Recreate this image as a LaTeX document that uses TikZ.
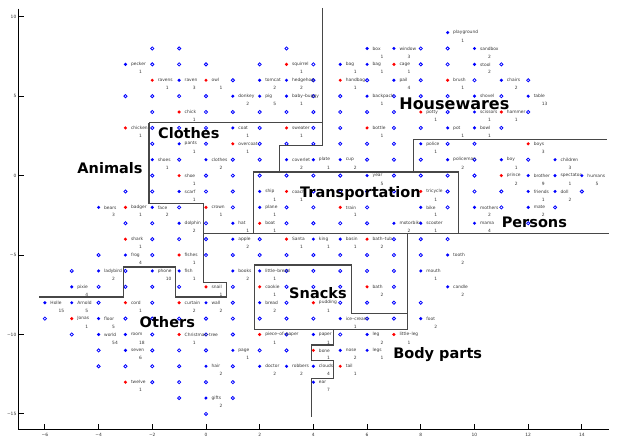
\documentclass[tikz,border=0pt]{standalone}
\usepackage{fontspec}
\setmainfont{DejaVu Sans}
\definecolor{pb}{RGB}{0,0,255}
\definecolor{pr}{RGB}{255,0,0}
\begin{document}
\begin{tikzpicture}[x=26.85pt, y=15.89pt]
\tikzset{
 dot/.style={circle, inner sep=0pt, minimum size=3.4pt},
 ring/.style={circle, draw=pb, line width=0.8pt, inner sep=0pt, minimum size=3.2pt},
 wlab/.style={anchor=west, inner sep=0pt, text=black!78, font=\fontsize{4.4}{5}\selectfont},
 cnt/.style={wlab},
 cat/.style={anchor=base, inner sep=0pt, font=\bfseries\fontsize{14.5}{17}\selectfont},
 region/.style={draw=black!72, line width=1.2pt},
 axisline/.style={draw=black, line width=0.9pt},
 ticklab/.style={inner sep=0pt, text=black!80, font=\fontsize{4.4}{5}\selectfont},
}
\useasboundingbox (-7.672,-16.576) rectangle (15.494,11.051);

% empty grid cells
\foreach \y/\xs in {8/{-2,-1,3,8,9}, 7/{-2,-1,0,2,4,8,9,11}, 6/{1,4,6,8,10,12},
  5/{-3,-2,-1,0,4,5,7,8,9,11}, 4/{-2,0,1,2,3,4,5,6,7,9,12}, 3/{-2,-1,0,2,4,5,7,8,11},
  2/{-2,0,2,3,4,5,6,7,9,10}, 1/{-1,1,2,6,7,8,10,12}, 0/{-2,0,1,2,3,4,5,7,8,9,10},
  -1/{-3,-2,0,1,4,5,6,7,9,10,11,14}, -2/{-1,1,3,4,6,9,11,13}, -3/{-3,-2,0,3,4,5,6,12},
  -4/{-2,-1,0,2,7,8,9}, -5/{-4,-2,0,1,2,3,4,5,6,7,8}, -6/{-5,-3,3,4,5,6,7},
  -7/{-4,-3,-2,-1,1,3,4,5,7}, -8/{-4,-2,1,3,5,6,7,8}, -9/{-6,-3,-2,-1,0,1,2,3,4,6,7},
  -10/{-5,-2,0,1,3,5}, -11/{-4,-2,-1,0,2,3}, -12/{-4,-3,-2,-1,1}, -13/{-2,-1,0,1},
  -14/{-1,1}, -15/{0}}{
  \foreach \x in \xs {\node[ring] (e\x y\y) at (\x,\y) {};}
}

% labelled words
\foreach \x/\y/\t/\l/\c [count=\i] in {
 9/9/pb/playground/1, 6/8/pb/box/1, 7/8/pb/window/3, 10/8/pb/sandbox/2,
 -3/7/pb/pecker/1, 3/7/pr/squirrel/1, 5/7/pb/bag/1, 6/7/pb/bag/1, 7/7/pr/cage/1, 10/7/pb/stool/2,
 -2/6/pr/ravens/1, -1/6/pb/raven/3, 0/6/pr/owl/1, 2/6/pb/tomcat/2, 3/6/pb/hedgehog/2,
 5/6/pr/handbag/1, 7/6/pb/pail/4, 9/6/pr/brush/1, 11/6/pb/chairs/2,
 1/5/pb/donkey/2, 2/5/pb/pig/5, 3/5/pb/baby–buggy/1, 6/5/pb/backpack/1, 12/5/pb/table/13,
 -1/4/pr/chick/1, 8/4/pr/potty/1, 10/4/pb/scissors/1, 11/4/pr/hammer/1,
 -3/3/pr/chicken/1, 1/3/pb/coat/1, 3/3/pr/sweater/1, 6/3/pr/bottle/1, 9/3/pb/pot/1, 10/3/pb/bowl/1,
 -1/2/pb/pants/1, 1/2/pr/overcoat/1, 8/2/pb/police/1, 12/2/pr/boys/3,
 -2/1/pb/shoes/1, 0/1/pb/clothes/2, 3/1/pb/coverlet/2, 4/1/pb/plate/1, 5/1/pb/cup/2,
 9/1/pb/policeman/2, 11/1/pb/boy/1, 13/1/pb/children/3,
 -1/0/pr/shoe/1, 6/0/pb/year/5, 11/0/pr/prince/2, 12/0/pb/brother/9, 13/0/pb/spectator/1, 14/0/pb/humans/5,
 -1/-1/pb/scarf/1, 2/-1/pb/ship/1, 3/-1/pr/coach/1, 8/-1/pr/tricycle/1, 12/-1/pb/friends/1, 13/-1/pb/doll/2,
 -4/-2/pb/bears/3, -3/-2/pr/badger/1, -2/-2/pb/face/2, 0/-2/pr/crown/1, 2/-2/pb/plane/1,
 5/-2/pr/train/1, 8/-2/pb/bike/1, 10/-2/pb/mothers/2, 12/-2/pb/mate/2,
 -1/-3/pb/dolphin/2, 1/-3/pb/hat/1, 2/-3/pr/boat/1, 7/-3/pb/motorbike/2, 8/-3/pb/scooter/1, 10/-3/pb/mama/4,
 -3/-4/pr/shark/1, 1/-4/pb/apple/2, 3/-4/pr/Santa/1, 4/-4/pb/king/1, 5/-4/pb/basin/1, 6/-4/pr/bath–tub/2,
 -3/-5/pb/frog/4, -1/-5/pr/fishes/1, 9/-5/pb/tooth/2,
 -4/-6/pb/ladybird/2, -2/-6/pb/phone/10, -1/-6/pb/fish/1, 1/-6/pb/books/2, 2/-6/pb/little–bread/1, 8/-6/pb/mouth/1,
 -5/-7/pb/pixie/4, 0/-7/pr/snail/1, 2/-7/pr/cookie/1, 6/-7/pr/bath/2, 9/-7/pb/candle/2,
 -6/-8/pb/Holle/15, -5/-8/pb/Arnold/5, -3/-8/pr/cord/1, -1/-8/pr/curtain/2, 0/-8/pb/wall/2,
 2/-8/pb/bread/2, 4/-8/pr/pudding/1,
 -5/-9/pr/Jonas/1, -4/-9/pb/floor/5, 5/-9/pb/ice–cream/1, 8/-9/pb/foot/2,
 -4/-10/pb/world/54, -3/-10/pb/room/18, -1/-10/pr/Christmas–tree/1, 2/-10/pr/piece–of–paper/1,
 4/-10/pb/paper/1, 6/-10/pb/leg/2, 7/-10/pr/little–leg/1,
 -3/-11/pb/seven/6, 1/-11/pb/page/1, 4/-11/pr/bone/1, 5/-11/pb/nose/2, 6/-11/pb/legs/1,
 0/-12/pb/hair/2, 2/-12/pb/doctor/2, 3/-12/pb/robbers/2, 4/-12/pb/clouds/4, 5/-12/pr/tail/1,
 -3/-13/pr/twelve/1, 4/-13/pb/ear/7, 0/-14/pb/gifts/2}{
  \node[dot, fill=\t] (d\i) at (\x,\y) {};
  \node[wlab] (w\i) at (\x+0.2,\y) {\l};
  \node[cnt] (c\i) at (\x+0.5,\y-0.5) {\c};
}
\node[dot, fill=pb] (dshovel) at (10,5) {};
\node[wlab] (wshovel) at (10.2,5) {shovel};

% axes
\draw[axisline] (-7,10.5) coordinate (ytop) -- (-7,-16) coordinate (orig) -- (15,-16) coordinate (xend);
\foreach \v/\s in {-6/−6,-4/−4,-2/−2,0/0,2/2,4/4,6/6,8/8,10/10,12/12,14/14}{
  \draw[axisline] (\v,-16) -- ++(0,5.5pt);
  \node[ticklab, anchor=north] (xt\v) at ([yshift=-3pt]\v,-16) {\s};
}
\foreach \v/\s in {10/10,5/5,0/0,-5/−5,-10/−10,-15/−15}{
  \draw[axisline] (-7,\v) -- ++(5.5pt,0);
  \node[ticklab, anchor=east] (yt\v) at ([xshift=-1.5pt]-7,\v) {\s};
}

% region borders
\draw[region] (4.33,10.55) -- (4.33,1.88) -- (2.73,1.88) -- (2.73,0.23);
\draw[region] (-2.12,3.32) -- (4.33,3.32);
\draw[region] (-2.12,3.32) -- (-2.12,-1.78) -- (-0.10,-1.78) -- (-0.10,-6.71) -- (0.77,-6.71)
  -- (0.77,-7.64) -- (-1.14,-7.64) -- (-1.14,-5.75) -- (-3.08,-5.75) -- (-3.08,-7.64) -- (-6.21,-7.64);
\draw[region] (1.76,-3.63) -- (1.76,0.23) -- (9.40,0.23) -- (9.40,-3.63);
\draw[region] (14.93,2.28) -- (7.72,2.28) -- (7.72,0.23);
\draw[region] (-0.10,-3.63) -- (15.0,-3.63);
\draw[region] (7.49,-3.63) -- (7.49,-9.67) -- (1.82,-9.67) -- (1.82,-5.63) -- (5.43,-5.63)
  -- (5.43,-8.67) -- (7.49,-8.67);
\draw[region] (4.74,-9.67) -- (4.74,-10.66) -- (3.92,-10.66) -- (3.92,-11.65) -- (4.74,-11.65)
  -- (4.74,-12.76) -- (3.92,-12.76) -- (3.92,-15.17);

% category labels
\node[cat] (animals) at (-3.575,0.14) {Animals};
\node[cat] (clothes) at (-0.64,2.32) {Clothes};
\node[cat, font=\bfseries\fontsize{16}{18}\selectfont] (housewares) at (9.25,4.17) {Housewares};
\node[cat] (transport) at (5.75,-1.39) {Transportation};
\node[cat] (persons) at (12.23,-3.28) {Persons};
\node[cat] (snacks) at (4.17,-7.72) {Snacks};
\node[cat] (others) at (-1.44,-9.55) {Others};
\node[cat] (body) at (8.63,-11.5) {Body parts};
\end{tikzpicture}
\end{document}
